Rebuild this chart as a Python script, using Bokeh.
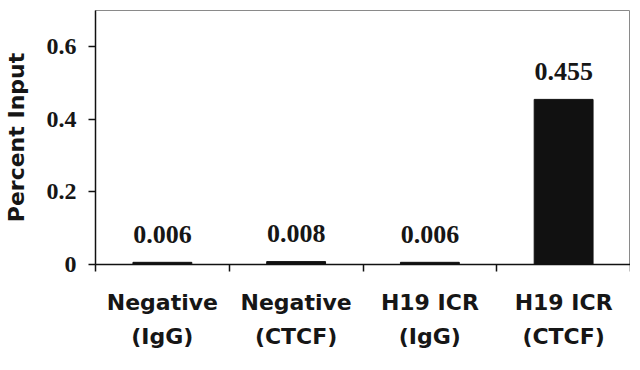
from bokeh.plotting import figure
from bokeh.models import FixedTicker, LinearAxis, Range1d, ColumnDataSource
from bokeh.core.properties import value
from bokeh.embed import file_html
from bokeh.resources import INLINE

categories = ["Negative\n(IgG)", "Negative\n(CTCF)", "H19 ICR\n(IgG)", "H19 ICR\n(CTCF)"]
values = [0.006, 0.008, 0.006, 0.455]
y_ticks = [0, 0.2, 0.4, 0.6]
y_tick_labels = ["0", "0.2", "0.4", "0.6"]

centers = [i + 0.5 for i in range(len(categories))]
boundaries = list(range(len(categories) + 1))

src = ColumnDataSource(dict(x=centers, top=values, label=["%.3f" % v for v in values]))

p = figure(frame_width=535, frame_height=254, output_backend="svg", toolbar_location=None,
           x_range=Range1d(0, len(categories)), y_range=Range1d(0, 0.7),
           min_border_left=89, min_border_right=0, min_border_top=10, min_border_bottom=88)
p.background_fill_color = "white"
p.border_fill_color = "white"
p.outline_line_color = "#8a8a8a"
p.outline_line_width = 1
p.grid.visible = False

p.vbar(x="x", top="top", width=0.44, bottom=0, source=src, fill_color="#111111", line_color="#111111")
p.text(x="x", y="top", text="label", source=src, text_align="center", text_baseline="alphabetic",
       y_offset=-28, text_font=value("Liberation Serif"), text_font_style="bold",
       text_font_size="26px", text_color="#161616")

SANS = "DejaVu Sans"

# y axis
ya = p.yaxis[0]
ya.ticker = FixedTicker(ticks=y_ticks)
ya.major_label_overrides = {t: l for t, l in zip(y_ticks, y_tick_labels)}
ya.major_label_text_font = "Liberation Serif"
ya.major_label_text_font_style = "bold"
ya.major_label_text_font_size = "24px"
ya.major_label_text_color = "#161616"
ya.major_label_standoff = 12
ya.major_tick_out = 7
ya.major_tick_in = 0
ya.minor_tick_line_color = None
ya.axis_line_color = "#111111"
ya.axis_line_width = 1.5
ya.major_tick_line_width = 1.5
ya.major_tick_line_color = "#111111"
ya.axis_label = "Percent Input"
ya.axis_label_text_font = SANS
ya.axis_label_text_font_style = "bold"
ya.axis_label_text_font_size = "22px"
ya.axis_label_text_color = "#161616"
ya.axis_label_standoff = 15

# x axis: ticks at category boundaries, no labels
xa = p.xaxis[0]
xa.ticker = FixedTicker(ticks=boundaries)
xa.major_label_overrides = {b: "" for b in boundaries}
xa.major_label_standoff = 0
xa.major_tick_out = 7
xa.major_tick_in = 0
xa.minor_tick_line_color = None
xa.axis_line_color = "#111111"
xa.axis_line_width = 1.5
xa.major_tick_line_width = 1.5
xa.major_tick_line_color = "#111111"

# second axis carrying category labels
xl = LinearAxis(ticker=FixedTicker(ticks=centers))
xl.major_label_overrides = {c: l for c, l in zip(centers, categories)}
xl.axis_line_color = None
xl.major_tick_line_color = None
xl.minor_tick_line_color = None
xl.major_label_text_font = SANS
xl.major_label_text_font_style = "bold"
xl.major_label_text_font_size = "22px"
xl.major_label_text_color = "#161616"
xl.major_label_standoff = 12
xl.major_label_text_line_height = 1.38
p.add_layout(xl, "below")

open("out.html", "w").write(file_html(p, INLINE))
